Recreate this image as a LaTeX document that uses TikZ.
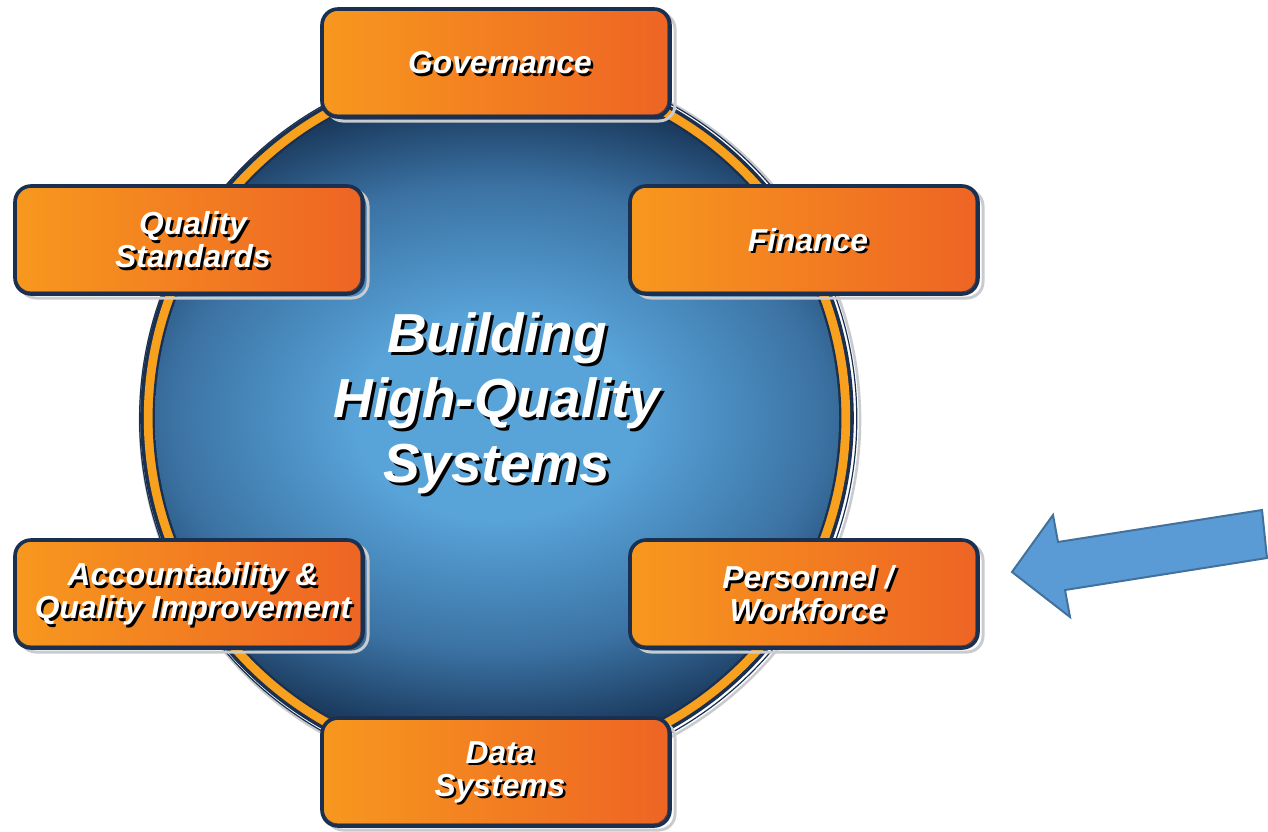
\documentclass[tikz,border=0pt]{standalone}
\usepackage{fontspec}
\setmainfont{Liberation Sans}
\usetikzlibrary{calc}

\definecolor{navy}{HTML}{1A3050}
\definecolor{ringorange}{HTML}{F8A11E}
\definecolor{boxL}{HTML}{F7981E}
\definecolor{boxR}{HTML}{EE6424}
\definecolor{ghostgray}{HTML}{C9CBCE}
\definecolor{hubA}{HTML}{58A3D8}
\definecolor{hubB}{HTML}{3B72A3}
\definecolor{hubC}{HTML}{0F2645}
\definecolor{arrowfill}{HTML}{5B9BD5}
\definecolor{arrowline}{HTML}{41719C}

% light centre fading out to deep navy at the rim
\pgfdeclareradialshading{hub}{\pgfpoint{0bp}{0bp}}{%
  color(0bp)=(hubA); color(7bp)=(hubA); color(16bp)=(hubB);
  color(24bp)=(hubC); color(50bp)=(hubC)}

\tikzset{
  pill/.style={rounded corners=8pt, minimum width=174pt, minimum height=54pt,
    left color=boxL, right color=boxR, draw=navy, line width=1.8pt, inner sep=0pt},
  ghost/.style={draw=ghostgray, line width=1.5pt, rounded corners=8pt},
  sketch/.style={draw=navy, line width=0.5pt, rounded corners=7pt, opacity=0.75},
  boxtxt/.style={text=white, align=center, inner sep=0pt,
    font=\fontsize{15.9}{16.6}\selectfont\bfseries\itshape},
  boxshadow/.style={boxtxt, text=black},
  titletxt/.style={text=white, align=center, inner sep=0pt,
    font=\fontsize{27.5}{32.5}\selectfont\bfseries\itshape},
  titleshadow/.style={titletxt, text=black},
  bigarrow/.style={fill=arrowfill, draw=arrowline, line width=1pt, line join=miter}
}

% #1 name, #2 centre, #3 label
\newcommand\pillbox[3]{%
  \draw[ghost] ($(#2)+(-84.5pt,-29pt)$) rectangle ++(174pt,54pt);
  \node[pill] (#1) at (#2) {};
  \draw[sketch] ($(#1.south west)+(1.6pt,2pt)$) rectangle ($(#1.north east)+(-2pt,-1.4pt)$);
  \node[boxshadow] at ([shift={(3.2pt,-1.2pt)}]#1.center) {#3};
  \node[boxtxt] at ([xshift=2pt]#1.center) {#3};
}

\begin{document}
\begin{tikzpicture}[x=0.5pt, y=-0.5pt]
\useasboundingbox (0,0) rectangle (1268,831);

% central disc with its orange ring
\coordinate (hub) at (497,418);
\draw[ghostgray, line width=1.3pt] ($(hub)+(1.5pt,-1pt)$) circle (180pt);
\draw[navy, line width=0.6pt] ($(hub)+(0.6pt,-0.3pt)$) circle (179.3pt);
\fill[navy] (hub) circle (178.4pt);
\fill[ringorange] (hub) circle (176.6pt);
\fill[navy] (hub) circle (172.2pt);
\begin{scope}
  \clip (hub) circle (171pt);
  \shade[shading=hub] (497,418) ellipse (255pt and 182pt);
\end{scope}

% title
\node[titleshadow] at ([shift={(1.5pt,-1.5pt)}]497,403) {Building\\High-Quality\\Systems};
\node[titletxt] (title) at (497,403) {Building\\High-Quality\\Systems};

% the six building blocks
\pillbox{gov}{496,63}{Governance}
\pillbox{qs}{189,240}{Quality\\Standards}
\pillbox{fin}{804,240}{Finance}
\pillbox{acc}{189,594}{Accountability \&\\Quality Improvement}
\pillbox{pers}{804,594}{Personnel /\\Workforce}
\pillbox{data}{496,772}{Data\\Systems}

% pointer towards Personnel / Workforce
\draw[bigarrow] (1012,572) -- (1053,515) -- (1058,542) -- (1262,510)
  -- (1267,558) -- (1065,590) -- (1070,617) -- cycle;
\end{tikzpicture}
\end{document}
